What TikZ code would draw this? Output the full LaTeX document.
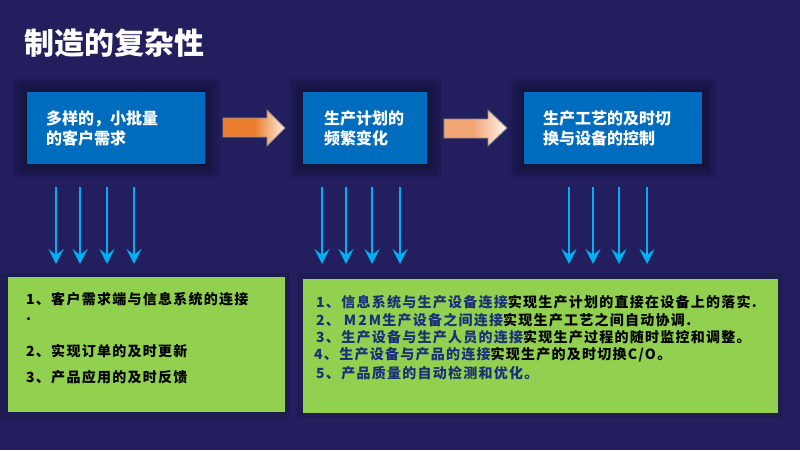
\documentclass[tikz,border=0pt]{standalone}
\usepackage{fontspec}
\newfontfamily\cjk{Noto Sans CJK SC}
\usetikzlibrary{arrows.meta}
\definecolor{bg}{RGB}{35,31,95}
\definecolor{boxblue}{RGB}{0,108,189}
\definecolor{frame}{RGB}{30,28,82}
\definecolor{green}{RGB}{146,208,80}
\definecolor{sky}{RGB}{0,176,240}
\definecolor{tb}{RGB}{26,48,120}
\definecolor{oa}{RGB}{236,126,48}
\definecolor{ob}{RGB}{255,240,228}
\definecolor{la}{RGB}{242,166,118}
\definecolor{lb}{RGB}{255,246,238}
\definecolor{agray}{RGB}{140,140,140}
\pgfdeclarehorizontalshading{fadeone}{100bp}{color(0bp)=(oa); color(25bp)=(oa); color(51bp)=(oa); color(75bp)=(ob); color(100bp)=(ob)}
\pgfdeclarehorizontalshading{fadetwo}{100bp}{color(0bp)=(la); color(25bp)=(la); color(48bp)=(la); color(75bp)=(lb); color(100bp)=(lb)}
\tikzset{
  bluebox/.style={fill=boxblue, text=white, anchor=north west, align=left, inner ysep=0pt,
    minimum height=72pt, font=\cjk\bfseries\fontsize{16}{20}\selectfont},
  greenbox/.style={fill=green, anchor=north west, inner sep=0pt},
  gtext/.style={anchor=west, inner sep=0pt, text=black,
    font=\cjk\bfseries\fontsize{14}{16}\selectfont\addfontfeature{LetterSpace=9}},
  downarrow/.style={draw=sky, line width=2.8pt, -{Stealth[length=15pt,width=15pt,inset=6pt]}},
  blockarrow/.style={draw=agray, line width=0.9pt, line join=miter},
}
\begin{document}
\begin{tikzpicture}[x=1pt,y=-1pt]
\fill[bg] (0,0) rectangle (800,450);
\useasboundingbox (0,0) rectangle (800,450);

% title
\node[anchor=west, inner sep=0pt, text=white, font=\cjk\bfseries\fontsize{30}{34}\selectfont] (title) at (24,43) {制造的复杂性};

% soft shadows around the blue boxes
\foreach \x/\w in {27/178, 303/124, 524/178}{
  \foreach \e in {1.5,3,...,15}{
    \fill[black, opacity=0.035] (\x-\e,92-\e) rectangle (\x+\w+\e,164+\e);
  }
}

% blue boxes
\node[bluebox, inner xsep=19pt, text width=140pt] (b1) at (27,92) {多样的，小批量\\的客户需求};
\node[bluebox, inner xsep=21pt, text width=82pt] (b2) at (303,92) {生产计划的\\频繁变化};
\node[bluebox, inner xsep=19pt, text width=140pt] (b3) at (524,92) {生产工艺的及时切\\换与设备的控制};

% block arrows
\shade[shading=fadeone, blockarrow] (223,118) -- (267,118) -- (267,110) -- (285,128) -- (267,146) -- (267,137) -- (223,137) -- cycle;
\shade[shading=fadetwo, blockarrow] (444,119) -- (488,119) -- (488,110) -- (507,128) -- (488,146) -- (488,138) -- (444,138) -- cycle;

% green panels with dark frames
\fill[frame] (0,273) rectangle (290,420);
\fill[frame] (297,273) rectangle (783,418);
\node[greenbox, minimum width=277pt, minimum height=135pt] (g1) at (8,277) {};
\node[greenbox, minimum width=475pt, minimum height=134pt] (g2) at (303,279) {};

% downward arrows
\foreach \x in {56,80,107,134}{ \draw[downarrow] (\x,187) -- (\x,264); }
\foreach \x in {322,346,372,400}{ \draw[downarrow] (\x,187) -- (\x,264); }
\foreach \x in {569,593,619,647}{ \draw[downarrow] (\x,187) -- (\x,264); }

% left panel text
\node[gtext] (l1) at (26,299) {1、客户需求端与信息系统的连接};
\node[gtext, anchor=base west] (l2) at (26,320) {.};
\node[gtext] (l3) at (26,351) {2、实现订单的及时更新};
\node[gtext] (l4) at (26,377) {3、产品应用的及时反馈};

% right panel text
\node[gtext] (r1) at (316,302) {\textcolor{tb}{1、信息系统与生产设备连接}实现生产计划的直接在设备上的落实.};
\node[gtext] (r2) at (316,320) {\textcolor{tb}{2、\hspace{4pt}M\hspace{2pt}2\hspace{2pt}M生产设备之间连接}实现生产工艺之间自动协调.};
\node[gtext] (r3) at (316,337) {\textcolor{tb}{3、生产设备与生产人员的连接}实现生产过程的随时监控和调整。};
\node[gtext] (r4) at (314,355) {\textcolor{tb}{4、生产设备与产品的连接}实现生产的及时切换C/O。};
\node[gtext] (r5) at (316,373) {\textcolor{tb}{5、产品质量的自动检测和优化。}};
\end{tikzpicture}
\end{document}
